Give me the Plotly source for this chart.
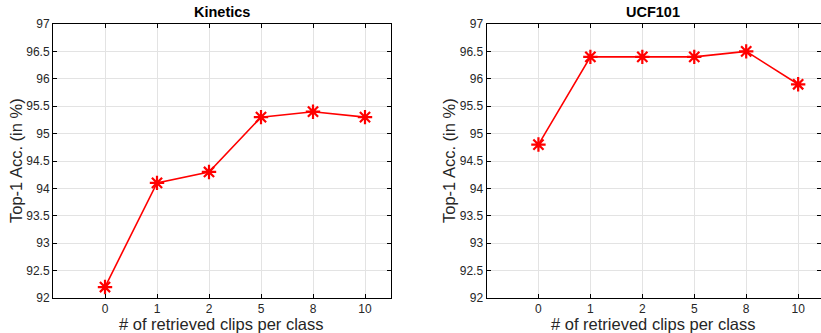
import plotly.graph_objects as go

clips = ["0", "1", "2", "5", "8", "10"]
kinetics = [92.2, 94.1, 94.3, 95.3, 95.4, 95.3]
ucf101 = [94.8, 96.4, 96.4, 96.4, 96.5, 95.9]
y_ticks = [92, 92.5, 93, 93.5, 94, 94.5, 95, 95.5, 96, 96.5, 97]
titles = ["Kinetics", "UCF101"]
x_label = "# of retrieved clips per class"
y_label = "Top-1 Acc. (in %)"

W, H = 821, 333
ML, MR, MT, MB = 53, 0, 24, 35
PW, PH = W - ML - MR, H - MT - MB
FONT = "Liberation Sans, Arial, sans-serif"


def px(x):
    return (x - ML) / PW


def py(y):
    return (H - MB - y) / PH


fig = go.Figure()
for i, vals in enumerate([kinetics, ucf101]):
    fig.add_trace(go.Scatter(
        x=clips, y=vals, mode="lines+markers",
        line=dict(color="#ff0000", width=1.6),
        marker=dict(symbol="asterisk-open", size=12, color="#ff0000",
                    line=dict(color="#ff0000", width=2.2)),
        xaxis="x" if i == 0 else "x2", yaxis="y" if i == 0 else "y2",
        showlegend=False, cliponaxis=False, hoverinfo="skip",
    ))

xdoms = [[0, px(391)], [px(486.5), 1.0]]
ranges = [[-1, 5.5], [-1, 5.44]]

common_x = dict(type="category", showgrid=True, gridcolor="#e3e3e3", gridwidth=1,
                showline=True, linecolor="black", linewidth=1, mirror="ticks",
                ticks="inside", ticklen=4, tickcolor="black",
                tickfont=dict(family=FONT, size=12, color="#262626"),
                zeroline=False, fixedrange=True, automargin=False)
common_y = dict(range=[92, 97], tickvals=y_ticks,
                ticktext=[f"{v:g}" for v in y_ticks],
                showgrid=True, gridcolor="#e3e3e3", gridwidth=1,
                showline=True, linecolor="black", linewidth=1, mirror="ticks",
                ticks="inside", ticklen=4, tickcolor="black",
                tickfont=dict(family=FONT, size=12, color="#262626"),
                zeroline=False, fixedrange=True, automargin=False)

layout = dict(
    width=W, height=H, margin=dict(l=ML, r=MR, t=MT, b=MB, autoexpand=False),
    paper_bgcolor="white", plot_bgcolor="white",
    font=dict(family=FONT, color="#262626"),
)
for i in range(2):
    sfx = "" if i == 0 else "2"
    layout["xaxis" + sfx] = dict(common_x, domain=xdoms[i], range=ranges[i],
                                 anchor="y" + sfx)
    layout["yaxis" + sfx] = dict(common_y, domain=[0, 1], anchor="x" + sfx)
fig.update_layout(**layout)

title_x = [222, 653]
xlab_x = [221, 653]
ylab_x = [16, 449]
for i in range(2):
    fig.add_annotation(text=f"<b>{titles[i]}</b>", x=px(title_x[i]), y=py(12),
                       xref="paper", yref="paper", showarrow=False,
                       xanchor="center", yanchor="middle",
                       font=dict(family=FONT, size=14.5, color="black"))
    fig.add_annotation(text=x_label, x=px(xlab_x[i]), y=py(324),
                       xref="paper", yref="paper", showarrow=False,
                       xanchor="center", yanchor="middle",
                       font=dict(family=FONT, size=16.5, color="#262626"))
    fig.add_annotation(text=y_label, x=px(ylab_x[i]), y=py(161),
                       xref="paper", yref="paper", showarrow=False, textangle=-90,
                       xanchor="center", yanchor="middle",
                       font=dict(family=FONT, size=16.5, color="#262626"))

fig.write_html("out.html", config={"displayModeBar": False, "staticPlot": True},
               post_script="document.body.style.margin='0';document.body.style.overflow='hidden';")
